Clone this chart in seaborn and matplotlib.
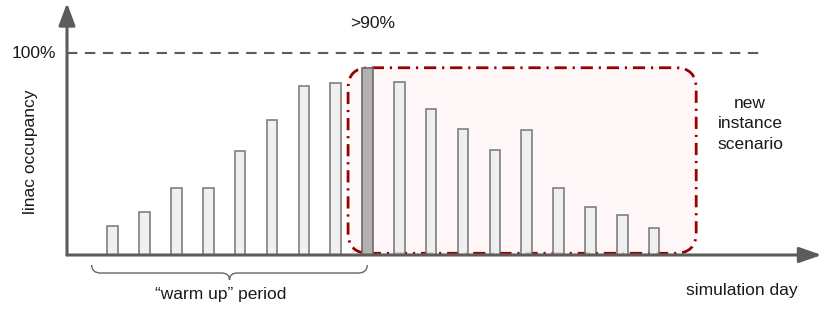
import numpy as np
import pandas as pd
import matplotlib
matplotlib.use('Agg')
import matplotlib.pyplot as plt
import seaborn as sns
from matplotlib.patches import FancyBboxPatch, PathPatch
from matplotlib.path import Path

# data (% of linac capacity)
days = list(range(1, 19))
occupancy = [14.4, 21.4, 33.0, 33.0, 51.6, 66.7, 83.8, 85.3, 92.7,
             85.5, 72.4, 62.4, 51.8, 61.7, 33.2, 23.9, 19.7, 13.4]
peak_day = 9

sns.set_theme(style='white')
plt.rcParams['font.family'] = ['Liberation Sans', 'DejaVu Sans']

# pixel layout of the sketch: day 1 at x=112.7px, 31.85px per day,
# baseline at y=255px, 2.02px per percent
X0, DX, Y0, DY = 112.7, 31.85, 255.0, 2.02
W, H = 838, 311


def px(x, y):
    return 1 + (x - X0) / DX, (Y0 - y) / DY


fig = plt.figure(figsize=(W / 100, H / 100), dpi=100)
ax = fig.add_axes([0, 0, 1, 1])
gray = '#5c5c5c'

df = pd.DataFrame({'day': days, 'occupancy': occupancy})
sns.barplot(data=df, x='day', y='occupancy', native_scale=True, width=0.33,
            color='#eeeeee', edgecolor='#6a6a6a', linewidth=1.2,
            errorbar=None, ax=ax, zorder=3, saturation=1)
for p, d in zip(ax.patches, days):
    p.set_alpha(0.85)
    if d == peak_day:
        p.set_facecolor('#b4b0b0')
        p.set_alpha(1)

# new instance scenario box
x_left = peak_day - 0.61
x_right = days[-1] + 1.32
box = FancyBboxPatch((x_left, 0.85), x_right - x_left, max(occupancy) - 0.85,
                     boxstyle='round,pad=0,rounding_size=0.65',
                     mutation_aspect=DX / DY, facecolor='#fff7f7',
                     edgecolor='#990000', linewidth=2.0,
                     linestyle=(0, (4.4, 2.1, 0.8, 2.1)), zorder=2)
ax.add_patch(box)

# 100% line
xa, _ = px(67, 0)
xe, _ = px(765, 0)
ax.hlines(100, xa, xe, colors=gray, linewidth=1.5,
          linestyles=(0, (5, 3.6)), zorder=1)

# axes arrows
ytop = px(0, 3)[1]
xtip = px(821.7, 0)[0]
ax.annotate('', xy=(xa, ytop), xytext=(xa, 0),
            arrowprops=dict(arrowstyle='-|>,head_length=1.35,head_width=0.5',
                            lw=2.2, color=gray, shrinkA=0, shrinkB=0,
                            mutation_scale=10), zorder=5)
ax.annotate('', xy=(xtip, 0), xytext=(xa, 0),
            arrowprops=dict(arrowstyle='-|>,head_length=1.35,head_width=0.47',
                            lw=2.2, color=gray, shrinkA=0, shrinkB=0,
                            mutation_scale=10), zorder=5)

# brace under warm up period
bl, br = 91.7, 367.3
bc = (bl + br) / 2
pts = [(bl, 265), (bl, 273), (bl + 9, 273), (bc - 8, 273), (bc, 273), (bc, 280),
       (bc, 273), (bc + 8, 273), (br - 9, 273), (br, 273), (br, 265)]
codes = [Path.MOVETO, Path.CURVE3, Path.CURVE3, Path.LINETO, Path.CURVE3,
         Path.CURVE3, Path.CURVE3, Path.CURVE3, Path.LINETO, Path.CURVE3,
         Path.CURVE3]
brace = Path([px(x, y) for x, y in pts], codes)
ax.add_patch(PathPatch(brace, facecolor='none', edgecolor='#666666', lw=1.0))

tc = '#1a1a1a'
fs = 12.5
ax.text(*px(56, 53), '100%', ha='right', va='center', fontsize=fs, color=tc)
ax.text(*px(373, 23), '>90%', ha='center', va='center', fontsize=fs, color=tc)
ax.text(*px(30, 152), 'linac occupancy', ha='center', va='center',
        rotation=90, fontsize=fs, color=tc)
ax.text(*px(750, 124), 'new\ninstance\nscenario', ha='center', va='center',
        fontsize=fs, color=tc, linespacing=1.45)
ax.text(*px(741.5, 290), 'simulation day', ha='center', va='center',
        fontsize=fs, color=tc)
ax.text(*px(221, 295), '\u201cwarm up\u201d period', ha='center', va='center',
        fontsize=fs, color=tc)

ax.set_xlim(px(0, 0)[0], px(W, 0)[0])
ax.set_ylim(px(0, H)[1], px(0, 0)[1])
ax.axis('off')

fig.savefig('out.png', dpi=100)
